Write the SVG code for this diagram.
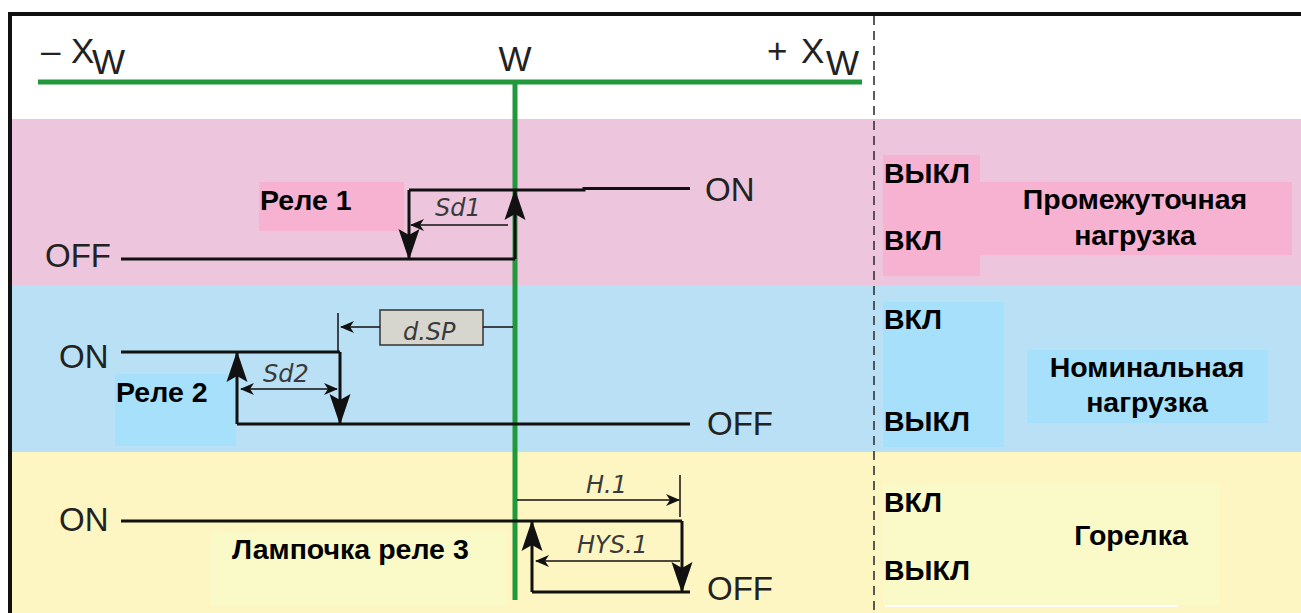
<svg xmlns="http://www.w3.org/2000/svg" width="1301" height="613" viewBox="0 0 1301 613">
<style>
.ax{font-family:"Liberation Sans",Arial,sans-serif;font-size:35px;fill:#222}
.st{font-family:"Liberation Sans",Arial,sans-serif;font-size:33px;fill:#222}
.lb{font-family:"Liberation Sans",Arial,sans-serif;font-size:28.5px;font-weight:bold;fill:#000}
.seg{font-family:"DejaVu Sans",sans-serif;font-size:24px;font-style:italic;fill:#3a3a3a}
.w{fill:none;stroke:#111;stroke-width:3}
.t{fill:none;stroke:#111;stroke-width:1.5}
.g{fill:none;stroke:#21983a;stroke-width:5}
</style>
<defs>
<marker id="big" markerUnits="userSpaceOnUse" markerWidth="34" markerHeight="24" viewBox="-32 -12 34 24" refX="0" refY="0" orient="auto">
<path d="M1,0 L-30,-10.5 L-24,0 L-30,10.5 Z" fill="#111"/>
</marker>
<marker id="sm" markerUnits="userSpaceOnUse" markerWidth="16" markerHeight="14" viewBox="-14 -7 16 14" refX="0" refY="0" orient="auto-start-reverse">
<path d="M1,0 L-13,-6 L-9,0 L-13,6 Z" fill="#111"/>
</marker>
</defs>
<rect x="0" y="0" width="1301" height="613" fill="#fff"/>
<g id="bands">
<rect x="12" y="119" width="1289" height="167" fill="#edc5dc"/>
<rect x="12" y="286" width="1289" height="166" fill="#b9e0f4"/>
<rect x="12" y="452" width="1289" height="161" fill="#fdf6c2"/>
</g>
<g id="frame">
<path d="M10,613 V14 H1301" fill="none" stroke="#111" stroke-width="4"/>
<path d="M874,16 V613" fill="none" stroke="#333" stroke-width="1.6" stroke-dasharray="9 6"/>
</g>
<g id="axis">
<path class="g" d="M38,82 H862"/>
<path class="g" d="M515,82 V600"/>
<text class="ax" x="41" y="63">–</text>
<text class="ax" x="71" y="63">X</text>
<text class="ax" x="92" y="74">W</text>
<text class="ax" x="515" y="71" text-anchor="middle">W</text>
<text class="ax" x="767" y="63">+</text>
<text class="ax" x="801" y="63">X</text>
<text class="ax" x="826" y="75">W</text>
</g>
<g id="relay1-label">
<rect x="259" y="182" width="145" height="49" fill="#f6b2d0"/>
<text class="lb" x="260" y="210">Реле 1</text>
</g>
<g id="relay2-label">
<rect x="115" y="374" width="121" height="72" fill="#a6e0fb"/>
<text class="lb" x="116" y="402">Реле 2</text>
</g>
<g id="relay3-label">
<rect x="211" y="532" width="295" height="73" fill="#fafac8"/>
<text class="lb" x="232" y="559">Лампочка реле 3</text>
</g>
<g id="dsp-box">
<rect x="380" y="310" width="103" height="35" fill="#d6d6ce" stroke="#333" stroke-width="1.5"/>
<text class="seg" x="403" y="340">d.SP</text>
</g>
<g id="connectors">
<path class="w" d="M121,259 H515"/>
<path class="w" d="M515,259 V190" marker-end="url(#big)"/>
<path class="w" d="M409,190 H584 V188.5 H690"/>
<path class="w" d="M409,190 V259" marker-end="url(#big)"/>
<path class="t" d="M508,225 H411" marker-end="url(#sm)"/>
<path class="w" d="M121,352 H340"/>
<path class="w" d="M340,352 V424" marker-end="url(#big)"/>
<path class="w" d="M237,424 H690"/>
<path class="w" d="M237,424 V352" marker-end="url(#big)"/>
<path class="t" d="M338,313 V352"/>
<path class="t" d="M380,327 H341" marker-end="url(#sm)"/>
<path class="t" d="M483,327 H513"/>
<path class="t" d="M241,389 H337" marker-start="url(#sm)" marker-end="url(#sm)"/>
<path class="w" d="M121,521 H682"/>
<path class="w" d="M682,521 V592" marker-end="url(#big)"/>
<path class="w" d="M532,592 H690"/>
<path class="w" d="M532,592 V521" marker-end="url(#big)"/>
<path class="t" d="M517,500 H679" marker-end="url(#sm)"/>
<path class="t" d="M680,475 V517"/>
<path class="t" d="M680,561 H536" marker-end="url(#sm)"/>
</g>
<g id="state-labels">
<text class="st" x="45" y="267">OFF</text>
<text class="st" x="705" y="201">ON</text>
<text class="st" x="59" y="368">ON</text>
<text class="st" x="707" y="435">OFF</text>
<text class="st" x="59" y="531">ON</text>
<text class="st" x="707" y="600">OFF</text>
</g>
<g id="param-labels">
<text class="seg" x="435" y="216">Sd1</text>
<text class="seg" x="263" y="382">Sd2</text>
<text class="seg" x="586" y="493">H.1</text>
<text class="seg" x="577" y="553">HYS.1</text>
</g>
<g id="legend-intermediate">
<rect x="883" y="155" width="97" height="121" fill="#f6b2d0"/>
<rect x="980" y="182" width="312" height="73" fill="#f6b2d0"/>
<text class="lb" x="884" y="183">ВЫКЛ</text>
<text class="lb" x="884" y="250">ВКЛ</text>
<text class="lb" x="1135" y="209" text-anchor="middle">Промежуточная</text>
<text class="lb" x="1135" y="245" text-anchor="middle">нагрузка</text>
</g>
<g id="legend-nominal">
<rect x="883" y="302" width="121" height="145" fill="#a6e0fb"/>
<rect x="1027" y="350" width="241" height="73" fill="#a6e0fb"/>
<text class="lb" x="884" y="329">ВКЛ</text>
<text class="lb" x="884" y="431">ВЫКЛ</text>
<text class="lb" x="1147" y="377" text-anchor="middle">Номинальная</text>
<text class="lb" x="1147" y="412" text-anchor="middle">нагрузка</text>
</g>
<g id="legend-burner">
<rect x="883" y="484" width="337" height="121" fill="#fafac8"/>
<path d="M885,606 H1178" stroke="#fff" stroke-width="2"/>
<text class="lb" x="884" y="512">ВКЛ</text>
<text class="lb" x="884" y="580">ВЫКЛ</text>
<text class="lb" x="1131" y="545" text-anchor="middle">Горелка</text>
</g>
</svg>
